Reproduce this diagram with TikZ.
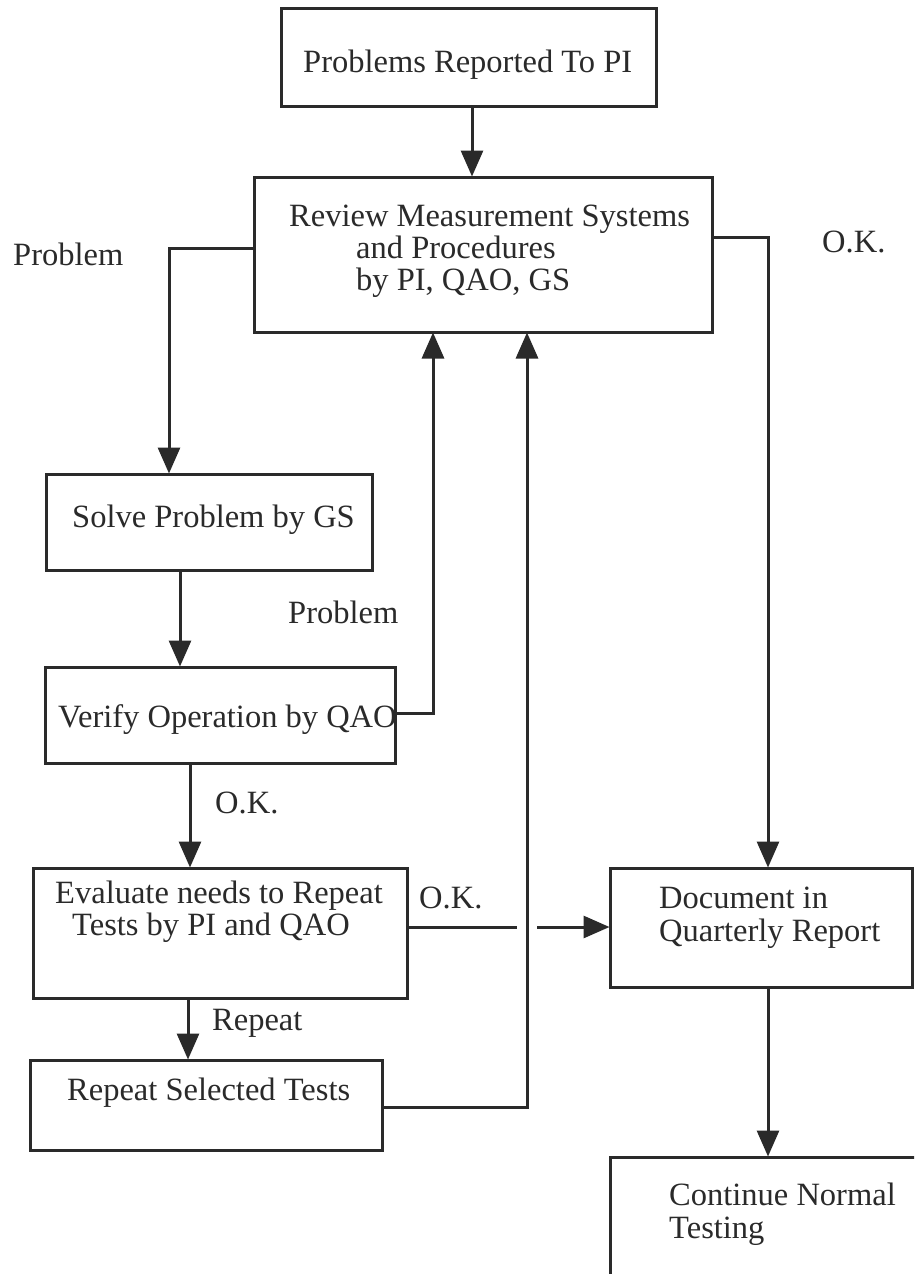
\documentclass[tikz,border=0pt]{standalone}
\usepackage{fontspec}
\setmainfont{Liberation Serif}
\usetikzlibrary{arrows.meta}
\definecolor{ink}{HTML}{2A2A2A}
\tikzset{
  box/.style={draw=ink, line width=3pt, inner sep=0pt, rectangle},
  txt/.style={text=ink, inner sep=0pt, font=\fontsize{32.5}{32.5}\selectfont},
  conn/.style={draw=ink, line width=3pt},
  arr/.style={conn, -{Triangle[length=26pt,width=22pt]}, shorten >=-1pt},
}
\begin{document}
\begin{tikzpicture}[x=1pt,y=-1pt]
\clip (0,0) rectangle (914,1274);
\fill[white] (0,0) rectangle (914,1274);
% boxes: centers from measured edges
\node[box, minimum width=375pt, minimum height=98pt] (A) at (468.5,57) {};
\node[box, minimum width=458pt, minimum height=155pt] (B) at (483,254.5) {};
\node[box, minimum width=326pt, minimum height=96pt] (S) at (209,522) {};
\node[box, minimum width=350pt, minimum height=96pt] (V) at (220,715) {};
\node[box, minimum width=374pt, minimum height=130pt] (E) at (220,933) {};
\node[box, minimum width=352pt, minimum height=90pt] (R) at (206,1105) {};
\node[box, minimum width=302pt, minimum height=119pt] (D) at (761,927.5) {};
\node[box, minimum width=340pt, minimum height=220pt] (C) at (780,1267) {};
% texts
\node[txt, anchor=base west] (tA) at (303,72) {Problems Reported To PI};
\node[txt, anchor=base west] (tB1) at (289,226) {Review Measurement Systems};
\node[txt, anchor=base west] (tB2) at (356,258) {and Procedures};
\node[txt, anchor=base west] (tB3) at (356,290) {by PI, QAO, GS};
\node[txt, anchor=base west] (tS) at (72,527) {Solve Problem by GS};
\node[txt, anchor=base west] (tV) at (58,727) {Verify Operation by QAO};
\node[txt, anchor=base] (tE1) at (219,903) {Evaluate needs to Repeat};
\node[txt, anchor=base] (tE2) at (211,935) {Tests by PI and QAO};
\node[txt, anchor=base west] (tR) at (67,1100) {Repeat Selected Tests};
\node[txt, anchor=base west] (tD1) at (659,908) {Document in};
\node[txt, anchor=base west] (tD2) at (659,941) {Quarterly Report};
\node[txt, anchor=base west] (tC1) at (669,1205) {Continue Normal};
\node[txt, anchor=base west] (tC2) at (669,1238) {Testing};
% labels
\node[txt, anchor=base west] (lP1) at (13,265) {Problem};
\node[txt, anchor=base west] (lOK1) at (822,252) {O.K.};
\node[txt, anchor=base west] (lP2) at (288,623) {Problem};
\node[txt, anchor=base west] (lOK2) at (215,813) {O.K.};
\node[txt, anchor=base west] (lOK3) at (419,908) {O.K.};
\node[txt, anchor=base west] (lR) at (212,1030) {Repeat};
% helper coordinates
\coordinate (bl) at (169,248);
\coordinate (br) at (768,237);
\coordinate (vr) at (433,713);
\coordinate (rr) at (527,1107);
\coordinate (g1) at (517,927);
\coordinate (g2) at (537,927);
% connectors
\draw[arr] (472,0 |- A.south) -- (472,0 |- B.north);
\draw[arr] (B.west |- bl) -- (bl) -- (bl |- S.north);
\draw[arr] (180,0 |- S.south) -- (180,0 |- V.north);
\draw[arr] (V.east |- vr) -- (vr) -- (vr |- B.south);
\draw[arr] (190,0 |- V.south) -- (190,0 |- E.north);
\draw[arr] (188,0 |- E.south) -- (188,0 |- R.north);
\draw[arr] (R.east |- rr) -- (rr) -- (rr |- B.south);
\draw[conn] (E.east |- g1) -- (g1);
\draw[arr] (g2) -- (D.west |- g2);
\draw[arr] (B.east |- br) -- (br) -- (br |- D.north);
\draw[arr] (768,0 |- D.south) -- (768,0 |- C.north);
\end{tikzpicture}
\end{document}
